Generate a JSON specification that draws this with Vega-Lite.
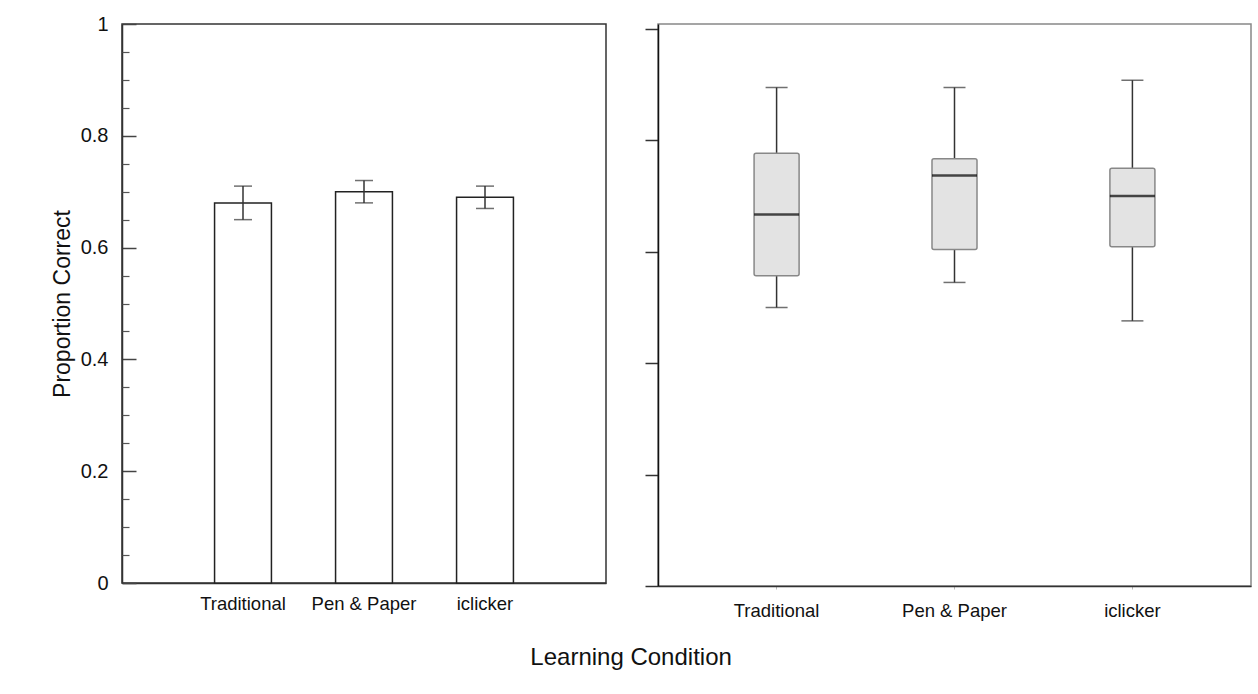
{
  "$schema": "https://vega.github.io/schema/vega-lite/v6.json",
  "background": "white",
  "padding": {"left": 50, "top": 13, "right": 7, "bottom": 5},
  "datasets": {
    "bars": [
      {"condition": "Traditional", "mean": 0.68, "lo": 0.65, "hi": 0.71},
      {"condition": "Pen & Paper", "mean": 0.70, "lo": 0.68, "hi": 0.72},
      {"condition": "iclicker", "mean": 0.69, "lo": 0.67, "hi": 0.71}
    ],
    "boxes": [
      {"condition": "Traditional", "lower": 0.500, "q1": 0.557, "median": 0.667, "q3": 0.777, "upper": 0.895},
      {"condition": "Pen & Paper", "lower": 0.545, "q1": 0.604, "median": 0.737, "q3": 0.767, "upper": 0.895},
      {"condition": "iclicker", "lower": 0.476, "q1": 0.609, "median": 0.700, "q3": 0.750, "upper": 0.908}
    ]
  },
  "title": {"text": "Learning Condition", "orient": "bottom", "anchor": "middle", "fontSize": 24, "fontWeight": "normal", "font": "Liberation Sans", "color": "#111", "offset": 26, "dx": -20},
  "spacing": 36,
  "hconcat": [
    {
      "width": 484,
      "height": 559,
      "view": {"stroke": "#333", "strokeWidth": 1.5},
      "data": {"name": "bars"},
      "encoding": {
        "x": {"field": "condition", "type": "nominal", "sort": ["Traditional", "Pen & Paper", "iclicker"],
          "scale": {"paddingInner": 0, "paddingOuter": 0.5},
          "axis": {"title": null, "labelAngle": 0, "ticks": false, "labelPadding": 11, "labelFontSize": 18.5, "domainColor": "#333", "domainWidth": 1.5}}
      },
      "layer": [
        {
          "mark": {"type": "bar", "fill": "white", "stroke": "#222", "strokeWidth": 1.5, "width": {"band": 0.47}},
          "encoding": {
            "y": {"field": "mean", "type": "quantitative", "scale": {"domain": [0, 1], "nice": false},
              "axis": {"orient": "left", "values": [0, 0.2, 0.4, 0.6, 0.8, 1], "format": "~g", "tickSize": -14, "tickWidth": 1.5, "tickColor": "#444", "labelPadding": 28, "labelFontSize": 20, "domainColor": "#333", "domainWidth": 1.5, "title": "Proportion Correct", "titleFontSize": 23, "titleFontWeight": "normal", "titlePadding": 6}}
          }
        },
        {
          "mark": {"type": "rule", "color": "#333", "strokeWidth": 1.5},
          "encoding": {"y": {"field": "lo", "type": "quantitative", "axis": null}, "y2": {"field": "hi"}}
        },
        {
          "mark": {"type": "tick", "color": "#333", "size": 18, "thickness": 1.5},
          "encoding": {"y": {"field": "hi", "type": "quantitative", "axis": null}}
        },
        {
          "mark": {"type": "tick", "color": "#333", "size": 18, "thickness": 1.5},
          "encoding": {"y": {"field": "lo", "type": "quantitative", "axis": null}}
        },
        {
          "mark": {"type": "tick", "opacity": 0},
          "encoding": {"y": {"field": "mean", "type": "quantitative",
            "axis": {"orient": "left", "values": [0.05, 0.1, 0.15, 0.25, 0.3, 0.35, 0.45, 0.5, 0.55, 0.65, 0.7, 0.75, 0.85, 0.9, 0.95], "tickSize": -7, "tickWidth": 1.2, "tickColor": "#555", "labels": false, "domain": false, "title": null}}}
        }
      ],
      "resolve": {"axis": {"y": "independent"}}
    },
    {
      "width": 593,
      "height": 562,
      "view": {"stroke": "#888", "strokeWidth": 1.5},
      "data": {"name": "boxes"},
      "encoding": {
        "x": {"field": "condition", "type": "nominal", "sort": ["Traditional", "Pen & Paper", "iclicker"],
          "scale": {"paddingInner": 0, "paddingOuter": 0.1666},
          "axis": {"title": null, "labelAngle": 0, "ticks": true, "tickSize": 3, "tickColor": "#bbb", "labelPadding": 12, "labelFontSize": 18.5, "domainColor": "#333", "domainWidth": 1.5}}
      },
      "layer": [
        {
          "mark": {"type": "rule", "color": "#333", "strokeWidth": 1.5},
          "encoding": {
            "y": {"field": "lower", "type": "quantitative", "scale": {"domain": [0, 1.009], "nice": false},
              "axis": {"values": [0, 0.2, 0.4, 0.6, 0.8, 1], "labels": false, "tickSize": 13, "tickWidth": 1.5, "tickColor": "#333", "domainColor": "#111", "domainWidth": 1.5, "title": null}},
            "y2": {"field": "upper"}
          }
        },
        {
          "mark": {"type": "bar", "fill": "#e3e3e3", "stroke": "#888", "strokeWidth": 1.5, "cornerRadius": 2, "width": {"band": 0.253}},
          "encoding": {"y": {"field": "q1", "type": "quantitative"}, "y2": {"field": "q3"}}
        },
        {
          "mark": {"type": "tick", "color": "#000", "size": 45, "thickness": 2.5},
          "encoding": {"y": {"field": "median", "type": "quantitative"}}
        },
        {
          "mark": {"type": "tick", "color": "#333", "size": 22, "thickness": 1.5},
          "encoding": {"y": {"field": "upper", "type": "quantitative"}}
        },
        {
          "mark": {"type": "tick", "color": "#333", "size": 22, "thickness": 1.5},
          "encoding": {"y": {"field": "lower", "type": "quantitative"}}
        }
      ]
    }
  ],
  "config": {
    "font": "Liberation Sans",
    "axis": {"labelFont": "Liberation Sans", "titleFont": "Liberation Sans", "labelColor": "#111", "titleColor": "#111", "grid": false}
  }
}
